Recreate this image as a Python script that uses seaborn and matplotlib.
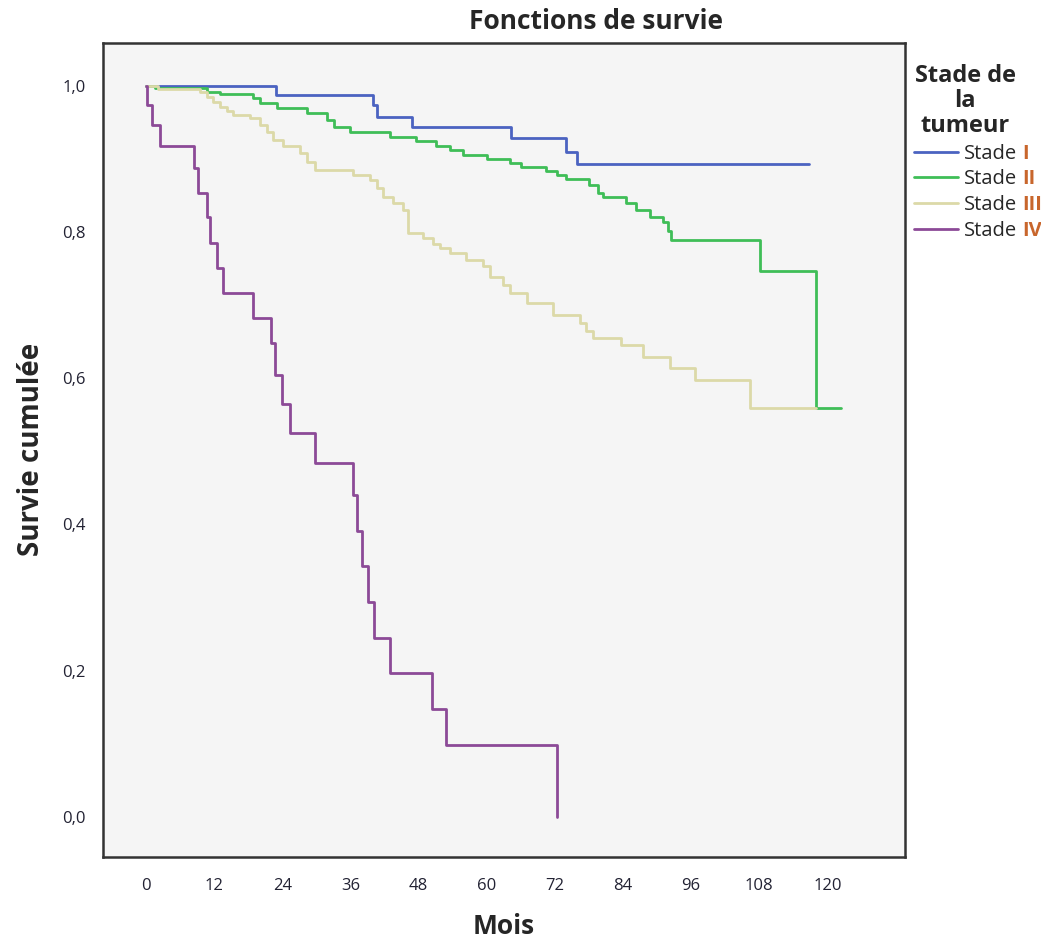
import numpy as np
import pandas as pd
import seaborn as sns
import matplotlib.pyplot as plt
from matplotlib.lines import Line2D

stades = ["Stade I", "Stade II", "Stade III", "Stade IV"]
chiffres = ["I", "II", "III", "IV"]
couleurs = ["#4b63c1", "#3fbe57", "#dcd9a8", "#8c4a97"]

mois_1 = [0, 22.8, 40.0, 40.6, 46.8, 64.3, 74.0, 75.8, 116.8]
survie_1 = [1.0, 0.988, 0.974, 0.958, 0.943, 0.929, 0.910, 0.893, 0.893]

mois_2 = [0, 1.5, 10.7, 13.0, 18.9, 20.0, 23.0, 28.3, 31.8, 33.0, 35.9, 43.0,
          47.6, 51.1, 53.5, 55.8, 60.0, 64.0, 66.0, 70.5, 72.3, 74.0, 78.0,
          79.5, 80.4, 84.6, 86.3, 88.7, 91.0, 91.9, 92.5, 108.2, 118.0, 122.4]
survie_2 = [1.0, 0.997, 0.992, 0.989, 0.983, 0.977, 0.970, 0.963, 0.953, 0.944,
            0.937, 0.930, 0.924, 0.917, 0.912, 0.906, 0.900, 0.894, 0.889, 0.884,
            0.878, 0.872, 0.865, 0.854, 0.848, 0.840, 0.830, 0.821, 0.814, 0.801,
            0.789, 0.747, 0.559, 0.559]

mois_3 = [0, 2.0, 9.5, 10.7, 11.8, 13.0, 14.2, 15.3, 18.3, 20.0, 21.2, 22.4,
          24.1, 27.1, 28.3, 29.7, 36.4, 39.4, 40.6, 41.7, 43.5, 45.2, 46.1,
          48.7, 50.5, 51.7, 53.5, 56.4, 59.3, 60.5, 62.8, 64.0, 67.0, 71.6,
          76.4, 77.5, 78.7, 83.7, 87.5, 92.2, 96.6, 106.3, 118.0]
survie_3 = [1.0, 0.996, 0.992, 0.985, 0.978, 0.971, 0.965, 0.960, 0.956, 0.947,
            0.937, 0.926, 0.917, 0.908, 0.896, 0.885, 0.878, 0.871, 0.860, 0.848,
            0.840, 0.830, 0.799, 0.792, 0.783, 0.778, 0.771, 0.762, 0.753, 0.739,
            0.728, 0.717, 0.703, 0.687, 0.676, 0.664, 0.655, 0.646, 0.629, 0.614,
            0.598, 0.559, 0.559]

mois_4 = [0, 0.1, 1.0, 2.5, 8.5, 9.2, 10.7, 11.3, 12.4, 13.5, 18.8, 21.9, 22.7,
          24.0, 25.3, 29.7, 36.4, 37.1, 38.0, 39.1, 40.1, 42.9, 50.4, 52.8, 72.4]
survie_4 = [1.0, 0.974, 0.947, 0.918, 0.888, 0.854, 0.820, 0.785, 0.751, 0.717,
            0.683, 0.648, 0.605, 0.565, 0.525, 0.484, 0.440, 0.391, 0.343, 0.294,
            0.245, 0.196, 0.147, 0.098, 0.0]

x_ticks = [0, 12, 24, 36, 48, 60, 72, 84, 96, 108, 120]
y_ticks = [0.0, 0.2, 0.4, 0.6, 0.8, 1.0]
y_labels = ["0,0", "0,2", "0,4", "0,6", "0,8", "1,0"]

frames = []
for nom, m, s in zip(stades, [mois_1, mois_2, mois_3, mois_4],
                     [survie_1, survie_2, survie_3, survie_4]):
    frames.append(pd.DataFrame({"Mois": m, "Survie": s, "Stade": nom}))
df = pd.concat(frames, ignore_index=True)

sns.set_style("white")
plt.rcParams['font.family'] = ['Open Sans', 'DejaVu Sans']

fig = plt.figure(figsize=(10.41, 9.49), dpi=100)
ax = fig.add_axes([0.099, 0.097, 0.770, 0.858])
ax.set_facecolor("#f5f5f5")

sns.lineplot(data=df, x="Mois", y="Survie", hue="Stade", hue_order=stades,
             palette=couleurs, estimator=None, sort=False, drawstyle="steps-post",
             linewidth=2.0, legend=False, ax=ax)

ax.set_xlim(-7.6, 133.6)
ax.set_ylim(-0.055, 1.059)
ax.set_xticks(x_ticks)
ax.set_xticklabels([str(t) for t in x_ticks])
ax.set_yticks(y_ticks)
ax.set_yticklabels(y_labels)
ax.tick_params(axis="both", direction="out", length=9, width=1.6, color="#333333",
               labelsize=12, labelcolor="#222233")
ax.tick_params(axis="x", pad=6)
for sp in ax.spines.values():
    sp.set_linewidth(1.8)
    sp.set_color("#333333")

ax.set_xlabel("Mois", fontsize=19, fontweight="bold", labelpad=14)
ax.set_ylabel("Survie cumulée", fontsize=20, fontweight="bold", labelpad=12)
fig.text(0.573, 0.977, "Fonctions de survie", ha="center", va="center",
         fontsize=19, fontweight="bold")

handles = [Line2D([0], [0], color=c, lw=2) for c in couleurs]
leg = fig.legend(handles, ["Stade"] * 4, loc="upper left",
                 bbox_to_anchor=(0.866, 0.945), frameon=False,
                 title="Stade de\nla\ntumeur", title_fontproperties={"weight": "bold", "size": 17},
                 fontsize=14.5, handlelength=2.2, handletextpad=0.3, labelspacing=0.28,
                 borderaxespad=0.2, alignment="center")
leg.get_title().set_multialignment("center")
leg.get_title().set_linespacing(1.05)

fig.canvas.draw()
r = fig.canvas.get_renderer()
W, H = fig.bbox.width, fig.bbox.height
for txt, ch in zip(leg.get_texts(), chiffres):
    bb = txt.get_window_extent(r)
    fig.text((bb.x1 + 5) / W, bb.y0 / H, ch, ha="left", va="bottom",
             fontsize=14.5, color="#c8662c", fontweight="bold")

fig.savefig("out.png", dpi=100)
